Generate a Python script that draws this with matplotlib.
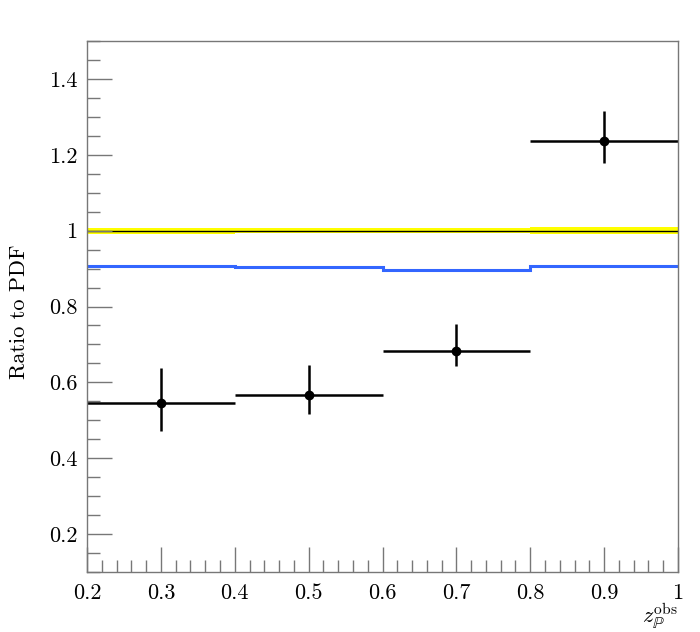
import numpy as np
import matplotlib
matplotlib.use('Agg')
import matplotlib.pyplot as plt
from matplotlib.ticker import MultipleLocator

plt.rcParams['font.family'] = 'serif'
plt.rcParams['font.serif'] = ['cmr10']
plt.rcParams['mathtext.fontset'] = 'cm'
plt.rcParams['axes.formatter.use_mathtext'] = True

# bins and values
bin_edges = [0.2, 0.4, 0.6, 0.8, 1.0]
bin_centres = [0.3, 0.5, 0.7, 0.9]
data_ratio = [0.545, 0.568, 0.682, 1.237]
err_up = [0.094, 0.077, 0.071, 0.079]
err_down = [0.074, 0.052, 0.040, 0.058]
model_ratio = [0.907, 0.903, 0.897, 0.908]
pdf_band_lo = [0.992, 0.993, 0.993, 0.990]
pdf_band_hi = [1.008, 1.007, 1.007, 1.010]

fig = plt.figure(figsize=(7.0, 6.32), dpi=100)
ax = fig.add_axes([0.1243, 0.0949, 0.8443, 0.8402])

# yellow PDF uncertainty band + nominal line
ax.stairs(pdf_band_hi, bin_edges, baseline=pdf_band_lo, fill=True,
          color='#ffff00', lw=0)
ax.stairs([1.0] * len(bin_centres), bin_edges, baseline=None,
          color='black', lw=1.0)

# blue prediction
ax.stairs(model_ratio, bin_edges, baseline=None, color='#3366ff', lw=2.2)

# data points
xerr = [c - lo for c, lo in zip(bin_centres, bin_edges[:-1])]
ax.errorbar(bin_centres, data_ratio, xerr=xerr, yerr=[err_down, err_up],
            fmt='o', color='black', ms=6, elinewidth=1.8, capsize=0)

ax.set_xlim(0.2, 1.0)
ax.set_ylim(0.1, 1.5)
ax.xaxis.set_major_locator(MultipleLocator(0.1))
ax.xaxis.set_minor_locator(MultipleLocator(0.02))
ax.yaxis.set_major_locator(MultipleLocator(0.2))
ax.yaxis.set_minor_locator(MultipleLocator(0.05))

def fmt(v, pos):
    s = f'{v:.1f}'
    return '1' if s == '1.0' else s

ax.xaxis.set_major_formatter(plt.FuncFormatter(fmt))
ax.yaxis.set_major_formatter(plt.FuncFormatter(fmt))

ax.tick_params(which='both', direction='in', color='#777777',
               top=False, right=False, labelsize=16)
ax.tick_params(which='major', length=18, width=1)
ax.tick_params(which='minor', length=9, width=1)
ax.tick_params(axis='x', pad=8)
ax.tick_params(axis='y', pad=7)
for sp in ax.spines.values():
    sp.set_color('#777777')
    sp.set_linewidth(1)

ax.set_ylabel('Ratio to PDF', fontsize=16)
ax.yaxis.set_label_coords(-0.098, 0.49)
ax.text(1.0, -0.055, r'$z_{\mathbb{P}}^{\mathrm{obs}}$', transform=ax.transAxes,
        ha='right', va='top', fontsize=16)

fig.savefig('out.png', dpi=100)
